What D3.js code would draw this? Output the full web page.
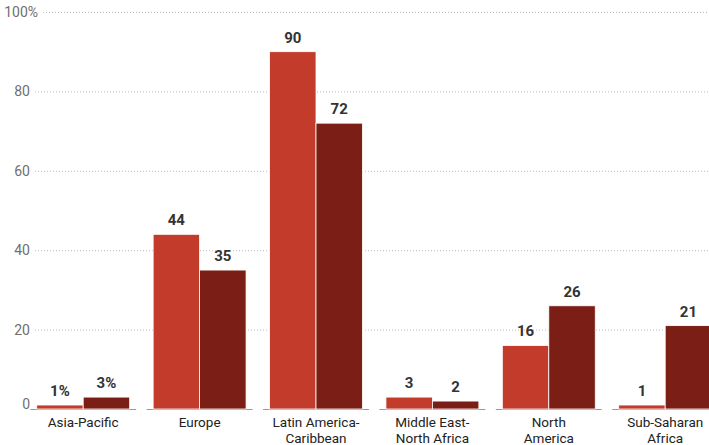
<!DOCTYPE html>
<html>
<head>
<meta charset="utf-8">
<script src="https://cdn.jsdelivr.net/npm/d3@7"></script>
<style>
  body { margin: 0; background: #fff; }
  svg { display: block; font-family: "Liberation Sans Narrow", "Roboto", sans-serif; }
</style>
</head>
<body>
<svg id="chart"></svg>
<script>
// data
var regions = ["Asia-Pacific", "Europe", "Latin America-\nCaribbean", "Middle East-\nNorth Africa", "North\nAmerica", "Sub-Saharan\nAfrica"];
var seriesA = [1, 44, 90, 3, 16, 1];
var seriesB = [3, 35, 72, 2, 26, 21];
var labelsA = ["1%", "44", "90", "3", "16", "1"];
var labelsB = ["3%", "35", "72", "2", "26", "21"];
var yTicks = [0, 20, 40, 60, 80, 100];

var width = 709, height = 445;
var y0 = 409, y1 = 12;

var chart = d3.select('#chart')
    .attr('width', width)
    .attr('height', height);

var yScale = d3.scaleLinear()
    .domain([0, 100])
    .range([y0, y1]);

var xScale = d3.scaleBand()
    .domain(regions)
    .range([25, 723.4])
    .paddingInner(0.09)
    .paddingOuter(0.045);

var inner = d3.scaleBand()
    .domain(["a", "b"])
    .range([0, xScale.bandwidth()])
    .paddingOuter(0.14);

// gridlines + tick labels
var grid = chart.append('g').attr('id', 'grid');
yTicks.forEach(function(t) {
    var y = yScale(t);
    var lbl = t === 100 ? "100%" : String(t);
    grid.append('text')
        .attr('x', t === 100 ? 38 : 30)
        .attr('y', t === 0 ? y : y + 5)
        .attr('text-anchor', 'end')
        .attr('fill', '#6f6f6f')
        .style('font-size', '14px')
        .text(lbl);
    if (t > 0) {
        grid.append('line')
            .attr('x1', t === 100 ? 43 : 35)
            .attr('x2', width)
            .attr('y1', y + 0.5)
            .attr('y2', y + 0.5)
            .attr('stroke', '#bbb')
            .attr('stroke-width', 1)
            .attr('stroke-dasharray', '1,2');
    }
});

// bars
var groups = chart.append('g').attr('id', 'bars')
    .selectAll('g')
    .data(regions)
    .enter().append('g')
    .attr('transform', function(d) { return 'translate(' + xScale(d) + ',0)'; });

groups.append('line')
    .attr('x1', 0)
    .attr('x2', xScale.bandwidth())
    .attr('y1', y0 + 0.5)
    .attr('y2', y0 + 0.5)
    .attr('stroke', '#999')
    .attr('stroke-width', 1);

var colors = { a: "#c23b2b", b: "#7b1f16" };

groups.each(function(d, i) {
    var g = d3.select(this);
    [["a", seriesA[i], labelsA[i]], ["b", seriesB[i], labelsB[i]]].forEach(function(s) {
        g.append('rect')
            .attr('x', inner(s[0]))
            .attr('y', yScale(s[1]))
            .attr('width', inner.bandwidth())
            .attr('height', y0 - yScale(s[1]))
            .attr('fill', colors[s[0]])
            .attr('stroke', '#fff')
            .attr('stroke-width', 0.8);
        g.append('text')
            .attr('x', inner(s[0]) + inner.bandwidth() / 2)
            .attr('y', yScale(s[1]) - 9)
            .attr('text-anchor', 'middle')
            .attr('fill', '#333')
            .style('font-size', '15px')
            .style('font-weight', 'bold')
            .text(s[2]);
    });
    var lines = d.split("\n");
    var t = g.append('text')
        .attr('text-anchor', 'middle')
        .attr('fill', '#222')
        .style('font-size', '13.5px');
    lines.forEach(function(l, k) {
        t.append('tspan')
            .attr('x', xScale.bandwidth() / 2)
            .attr('y', 427 + k * 16)
            .text(l);
    });
});
</script>
</body>
</html>
